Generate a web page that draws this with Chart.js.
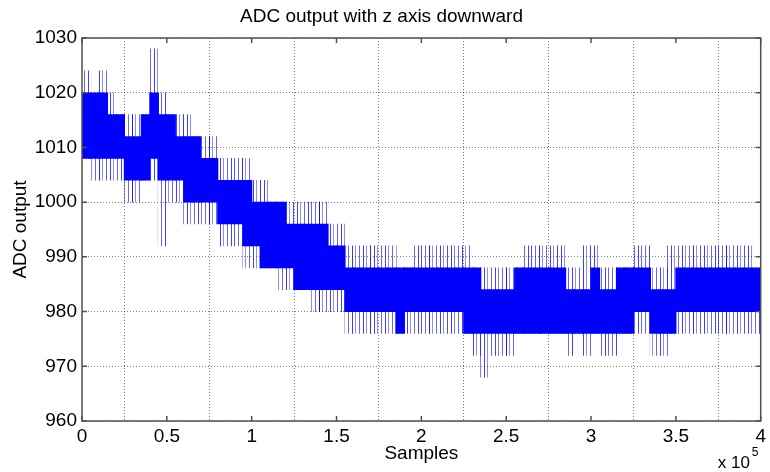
<!DOCTYPE html>
<html>
<head>
<meta charset="utf-8">
<script src="https://cdn.jsdelivr.net/npm/chart.js@4.4.0/dist/chart.umd.min.js"></script>
<style>
  html, body { margin: 0; padding: 0; background: #fff; }
</style>
</head>
<body>
<canvas id="myChart" width="770" height="472"></canvas>
<script>
// each entry covers one bin of 5000 samples (80 bins = 4 x 10^5 samples)
const BIN = 5000;

// dense (solid) part of the trace, min / max per bin
const coreLo = [1008, 1008, 1008, 1008, 1008, 1004, 1004, 1004, 1008, 1004,
                1004, 1004, 1000, 1000, 1000, 1000,  996,  996,  996,  992,
                 992,  988,  988,  988,  988,  984,  984,  984,  984,  984,
                 984,  980,  980,  980,  980,  980,  980,  976,  980,  980,
                 980,  980,  980,  980,  980,  976,  976,  976,  976,  976,
                 976,  976,  976,  976,  976,  976,  976,  976,  976,  976,
                 976,  976,  976,  976,  976,  980,  980,  976,  976,  976,
                 980,  980,  980,  980,  980,  980,  980,  980,  980,  980];
const coreHi = [1020, 1020, 1020, 1016, 1016, 1012, 1012, 1016, 1020, 1016,
                1016, 1012, 1012, 1012, 1008, 1008, 1004, 1004, 1004, 1004,
                1000, 1000, 1000, 1000,  996,  996,  996,  996,  996,  992,
                 992,  988,  988,  988,  988,  988,  988,  988,  988,  988,
                 988,  988,  988,  988,  988,  988,  988,  984,  984,  984,
                 984,  988,  988,  988,  988,  988,  988,  984,  984,  984,
                 988,  984,  984,  988,  988,  988,  988,  984,  984,  984,
                 988,  988,  988,  988,  988,  988,  988,  988,  988,  988];

// sparse excursions beyond the band, min / max per bin
const spikeLo = [1008, 1004, 1004, 1004, 1004, 1000, 1000, 1004, 1004,  992,
                 1000, 1000,  996,  996,  996,  996,  992,  992,  992,  988,
                  988,  988,  988,  984,  984,  984,  984,  980,  980,  980,
                  980,  976,  976,  976,  976,  976,  976,  976,  976,  976,
                  976,  976,  976,  976,  976,  976,  972,  968,  972,  972,
                  972,  976,  976,  976,  976,  976,  976,  972,  976,  972,
                  976,  972,  972,  976,  976,  976,  976,  972,  972,  976,
                  976,  976,  976,  976,  976,  976,  976,  976,  976,  976];
const spikeHi = [1024, 1020, 1024, 1020, 1016, 1016, 1016, 1016, 1028, 1020,
                 1016, 1016, 1016, 1012, 1012, 1012, 1008, 1008, 1008, 1008,
                 1004, 1004, 1000, 1000, 1000, 1000, 1000, 1000, 1000,  996,
                  996,  992,  992,  992,  992,  992,  992,  988,  988,  992,
                  992,  992,  992,  992,  992,  992,  988,  988,  988,  988,
                  988,  988,  992,  992,  992,  992,  992,  988,  988,  992,
                  992,  988,  988,  988,  988,  992,  992,  988,  988,  992,
                  992,  992,  992,  992,  992,  992,  992,  992,  992,  988];

// axis ticks
const xTickLabels = ['0', '0.5', '1', '1.5', '2', '2.5', '3', '3.5', '4'];
const yMin = 960, yMax = 1030, yStep = 10;

const binCenters = coreLo.map((_, i) => i * BIN + BIN / 2);

var ctx = document.getElementById('myChart').getContext('2d');

// uneven thin vertical lines for the sparse spikes
function stripes() {
  const c = document.createElement('canvas');
  c.width = 11; c.height = 1;
  const g = c.getContext('2d');
  g.fillStyle = 'rgba(0,0,255,0.75)';
  g.fillRect(0, 0, 1, 1);
  g.fillStyle = 'rgba(0,0,255,0.45)';
  g.fillRect(3, 0, 1, 1);
  g.fillStyle = 'rgba(0,0,255,0.6)';
  g.fillRect(7, 0, 1, 1);
  return ctx.createPattern(c, 'repeat');
}

const font = { family: '"Liberation Sans", Arial, Helvetica, sans-serif', size: 19 };

// matlab style box, inner ticks and the x 10^5 exponent
const frame = {
  id: 'frame',
  afterDraw(chart) {
    const c = chart.ctx, a = chart.chartArea, x = chart.scales.x, y = chart.scales.y;
    c.save();
    c.strokeStyle = '#505050';
    c.lineWidth = 1.5;
    c.beginPath();
    x.ticks.forEach(t => {
      const px = x.getPixelForValue(t.value);
      c.moveTo(px, a.bottom); c.lineTo(px, a.bottom - 5);
      c.moveTo(px, a.top); c.lineTo(px, a.top + 5);
    });
    y.ticks.forEach(t => {
      const py = y.getPixelForValue(t.value);
      c.moveTo(a.left, py); c.lineTo(a.left + 5, py);
      c.moveTo(a.right, py); c.lineTo(a.right - 5, py);
    });
    c.stroke();
    c.strokeRect(a.left, a.top, a.right - a.left, a.bottom - a.top);
    c.fillStyle = '#000';
    c.textBaseline = 'alphabetic';
    c.textAlign = 'left';
    c.font = '17px ' + font.family;
    c.fillText('x 10', a.right - 43, 468);
    c.font = '12px ' + font.family;
    c.fillText('5', a.right - 9, 456);
    c.restore();
  }
};

Chart.defaults.color = '#000';

var myChart = new Chart(ctx, {
  type: 'bar',
  data: {
    datasets: [{
      label: 'spikes',
      data: binCenters.map((x, i) => ({ x: x, y: [spikeLo[i], spikeHi[i]] })),
      backgroundColor: stripes(),
      borderWidth: 0,
      barThickness: 9,
      grouped: false,
      order: 2
    }, {
      label: 'ADC output',
      data: binCenters.map((x, i) => ({ x: x, y: [coreLo[i], coreHi[i]] })),
      backgroundColor: '#0000ff',
      borderWidth: 0,
      barThickness: 9,
      grouped: false,
      order: 1
    }]
  },
  options: {
    responsive: false,
    animation: false,
    devicePixelRatio: 1,
    layout: { padding: { top: 0, right: 7, bottom: 0, left: 0 } },
    plugins: {
      legend: { display: false },
      tooltip: { enabled: false },
      title: {
        display: true,
        text: 'ADC output with z axis downward',
        color: '#000',
        font: { family: font.family, size: 19, weight: 'normal' },
        padding: { top: 5, bottom: 10.2 }
      }
    },
    scales: {
      x: {
        type: 'linear',
        min: 0,
        max: 400000,
        offset: false,
        grid: { color: 'rgba(0,0,0,0.5)', drawTicks: false },
        border: { display: false, dash: [1, 2] },
        ticks: {
          stepSize: 50000,
          padding: 4,
          maxRotation: 0,
          font: font,
          callback: (v, i) => xTickLabels[i]
        },
        title: { display: true, text: 'Samples', font: font, padding: { top: 0, bottom: 7 } },
        afterFit: (s) => { s.height = 51; }
      },
      y: {
        min: yMin,
        max: yMax,
        grid: { color: 'rgba(0,0,0,0.5)', drawTicks: false },
        border: { display: false, dash: [1, 2] },
        ticks: { stepSize: yStep, padding: 5, font: font, callback: (v) => String(v) },
        title: { display: true, text: 'ADC output', font: font, padding: { top: 9, bottom: 0 } },
        afterFit: (s) => { s.width = 82; }
      }
    }
  },
  plugins: [frame]
});
</script>
</body>
</html>
